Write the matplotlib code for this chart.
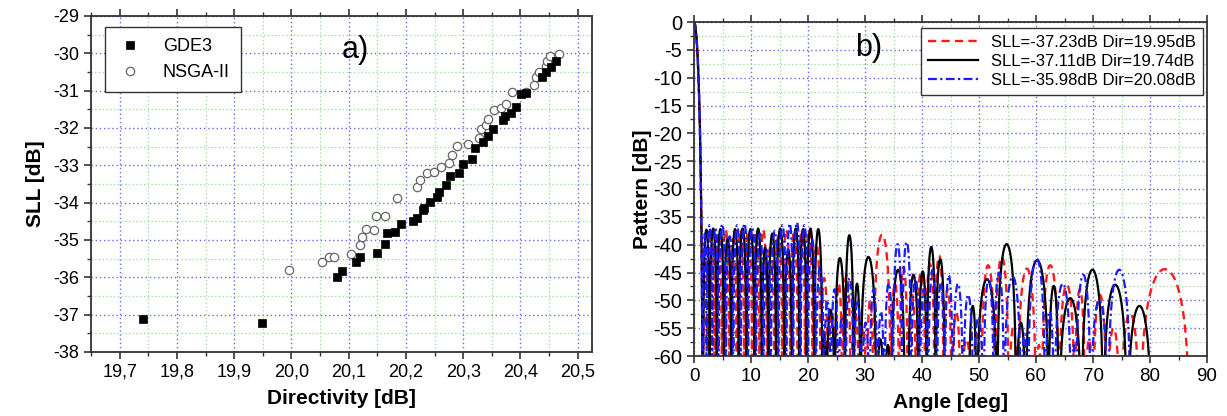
import numpy as np
import matplotlib
matplotlib.use('Agg')
import matplotlib.pyplot as plt
import matplotlib.ticker as mticker

# ── Data ──────────────────────────────────────────────────────────────────────
# a) Pareto fronts
GDE3_DIR = [19.740, 19.949, 20.080, 20.089, 20.112, 20.119, 20.150, 20.164, 20.167,
            20.181, 20.192, 20.213, 20.219, 20.229, 20.232, 20.242, 20.255, 20.258,
            20.270, 20.277, 20.292, 20.299, 20.315, 20.321, 20.335, 20.343, 20.352,
            20.370, 20.373, 20.383, 20.393, 20.401, 20.410, 20.438, 20.444, 20.453,
            20.462]
GDE3_SLL = [-37.11, -37.23, -35.98, -35.82, -35.58, -35.46, -35.36, -35.11, -34.80,
            -34.79, -34.58, -34.49, -34.42, -34.20, -34.13, -33.98, -33.84, -33.71,
            -33.53, -33.28, -33.20, -32.97, -32.83, -32.53, -32.37, -32.21, -32.04,
            -31.79, -31.68, -31.59, -31.43, -31.09, -31.07, -30.63, -30.49, -30.36,
            -30.20]
NSGA_DIR = [19.995, 20.054, 20.066, 20.074, 20.104, 20.119, 20.124, 20.130, 20.145,
            20.147, 20.163, 20.184, 20.219, 20.224, 20.236, 20.249, 20.261, 20.276,
            20.280, 20.290, 20.309, 20.328, 20.331, 20.339, 20.344, 20.354, 20.366,
            20.374, 20.386, 20.409, 20.424, 20.427, 20.433, 20.444, 20.447, 20.451,
            20.468]
NSGA_SLL = [-35.80, -35.59, -35.46, -35.45, -35.38, -35.13, -34.93, -34.71, -34.73,
            -34.36, -34.36, -33.87, -33.59, -33.39, -33.21, -33.17, -33.04, -32.95,
            -32.72, -32.48, -32.43, -32.28, -32.04, -31.92, -31.77, -31.52, -31.47,
            -31.36, -31.04, -31.03, -30.85, -30.64, -30.51, -30.34, -30.20, -30.07,
            -30.02]

# b) radiation patterns: null angles [deg] and lobe peak levels [dB] between them
RED_NULLS = [-1.6, 1.6, 2.4, 3.6, 4.9, 6.2, 7.5, 8.8, 10.2, 11.5, 12.8, 14.1, 15.5,
             16.9, 18.2, 19.5, 20.8, 22.2, 23.5, 24.8, 26.0, 27.5, 29.0, 30.3, 31.5,
             34.5, 36.0, 37.5, 39.0, 40.6, 42.2, 43.8, 45.2, 46.8, 48.8, 50.4, 52.8,
             55.2, 56.8, 60.0, 61.0, 64.0, 66.8, 68.6, 70.0, 72.4, 74.8, 78.2, 87.0]
RED_PEAKS = [0, -40, -37.3, -38, -37.3, -39, -37.3, -37.5, -38, -37.3, -40, -38.5,
             -37.3, -37.5, -38, -37.3, -40, -46, -52, -47, -45.5, -52, -55, -50,
             -38.2, -47, -44, -49, -45, -43.5, -42, -48, -52, -57, -56, -43.7, -42.2,
             -55, -44.3, -58, -43.7, -47.2, -48, -57, -49, -55, -52.3, -44.4]

BLACK_NULLS = [-1.6, 1.6, 2.75, 4.0, 5.25, 6.55, 7.85, 9.2, 10.6, 11.9, 13.05, 14.4,
               15.85, 17.2, 18.5, 19.75, 21.1, 22.5, 23.2, 24.7, 26.5, 28.0, 29.2,
               32.0, 33.4, 34.6, 37.0, 37.6, 39.4, 40.85, 42.4, 44.0, 46.0, 48.2,
               49.6, 53.2, 56.5, 58.2, 62.2, 64.0, 68.0, 71.8, 76.0, 80.3]
BLACK_PEAKS = [0, -37.3, -37.1, -37.2, -39, -37.2, -37.1, -37.2, -37.1, -40.5, -38,
               -37.1, -41, -37.1, -37.2, -37.1, -37.2, -56, -51.7, -42.4, -38.3, -47,
               -42.2, -57, -58, -44.5, -65, -45.4, -44.8, -40.4, -42.6, -65, -65, -51,
               -46.2, -39.9, -54, -42.8, -47.4, -49.6, -44.5, -47.2, -51]

BLUE_NULLS = [-1.6, 1.6, 2.2, 3.2, 4.3, 5.6, 6.9, 8.2, 9.5, 10.9, 12.2, 13.5, 14.8,
              16.2, 17.4, 18.7, 20.0, 21.4, 22.8, 24.0, 25.3, 26.6, 28.0, 29.4, 30.8,
              32.2, 33.4, 34.9, 36.5, 38.1, 39.6, 41.1, 42.6, 44.0, 45.4, 47.2, 49.0,
              50.8, 52.6, 54.4, 57.4, 58.6, 61.6, 63.2, 66.2, 67.0, 69.6, 72.6, 76.6]
BLUE_PEAKS = [0, -38, -36.5, -37, -36.3, -38.5, -36.5, -36.2, -37, -38, -41, -37.5,
              -36.5, -36.2, -35.98, -36.5, -39, -44, -50, -48, -53, -46, -50, -54,
              -48, -52, -47, -39.9, -39.5, -46, -48, -44.5, -47, -45.5, -47, -49, -53,
              -46, -45, -45.7, -56, -42.5, -52, -47, -58, -45.4, -50, -44.5]

PATTERN_LABELS = ['SLL=-37.23dB Dir=19.95dB',
                  'SLL=-37.11dB Dir=19.74dB',
                  'SLL=-35.98dB Dir=20.08dB']

# ── Style ─────────────────────────────────────────────────────────────────────
GRID_MAJ = '#6868f0'
GRID_MIN = '#90e090'
SPINE    = '#333333'

plt.rcParams.update({
    'font.family':       ['Liberation Sans', 'DejaVu Sans'],
    'axes.unicode_minus': False,
    'axes.edgecolor':    SPINE,
    'axes.linewidth':    1.3,
    'xtick.direction':   'out',
    'ytick.direction':   'out',
    'xtick.major.size':  5,
    'ytick.major.size':  5,
    'xtick.minor.size':  3,
    'ytick.minor.size':  3,
    'xtick.major.width': 1.2,
    'ytick.major.width': 1.2,
    'xtick.minor.width': 1.0,
    'ytick.minor.width': 1.0,
    'xtick.color':       SPINE,
    'ytick.color':       SPINE,
    'xtick.labelcolor':  'black',
    'ytick.labelcolor':  'black',
})


def lobes(nulls, peaks, main_sharp=3.4, n=80):
    # each lobe drawn between its two nulls, topped at the read peak level
    xs, ys = [], []
    for i, (a, b, p) in enumerate(zip(nulls[:-1], nulls[1:], peaks)):
        t = np.linspace(0, 1, n)
        s = np.clip(np.sin(np.pi * t), 1e-5, None)
        k = main_sharp if i == 0 else 1.0
        xs.append(a + (b - a) * t)
        ys.append(p + 20 * k * np.log10(s))
    return np.concatenate(xs), np.concatenate(ys)


def style_grid(ax):
    ax.grid(which='major', color=GRID_MAJ, linestyle=(0, (1, 2)), linewidth=1.0)
    ax.grid(which='minor', color=GRID_MIN, linestyle=(0, (1, 2)), linewidth=0.9)
    ax.set_axisbelow(True)
    ax.tick_params(which='both', top=True, right=False, labeltop=False)


fig = plt.figure(figsize=(12.27, 4.16), dpi=100)

# ════════════════════════════════════════════════════════════════════════════════
# a) SLL vs Directivity
# ════════════════════════════════════════════════════════════════════════════════
ax1 = fig.add_axes([91 / 1227, 64 / 416, 501 / 1227, 336 / 416])
ax1.plot(NSGA_DIR, NSGA_SLL, 'o', ms=6, mfc='white', mec='#666666', mew=0.9,
         label='NSGA-II', zorder=3)
ax1.plot(GDE3_DIR, GDE3_SLL, 's', ms=5.5, mfc='black', mec='black', mew=0.5,
         label='GDE3', zorder=4)
ax1.set_xlim(19.65, 20.525)
ax1.set_ylim(-38, -29)
ax1.xaxis.set_major_locator(mticker.MultipleLocator(0.1))
ax1.xaxis.set_minor_locator(mticker.MultipleLocator(0.05))
ax1.yaxis.set_major_locator(mticker.MultipleLocator(1))
ax1.yaxis.set_minor_locator(mticker.MultipleLocator(0.5))
ax1.xaxis.set_major_formatter(mticker.FuncFormatter(lambda v, _: f'{v:.1f}'.replace('.', ',')))
ax1.yaxis.set_major_formatter(mticker.FuncFormatter(lambda v, _: f'{int(round(v))}'))
ax1.tick_params(labelsize=13)
style_grid(ax1)
ax1.set_xlabel('Directivity [dB]', fontsize=15, fontweight='bold', labelpad=6)
ax1.set_ylabel('SLL [dB]', fontsize=15, fontweight='bold', labelpad=6)
h, l = ax1.get_legend_handles_labels()
leg1 = ax1.legend(h[::-1], l[::-1], loc='upper left', bbox_to_anchor=(0.028, 0.967),
                  borderaxespad=0, fontsize=13, fancybox=False, framealpha=1,
                  edgecolor='#333333', handletextpad=1.0, borderpad=0.6,
                  handlelength=1.6)
leg1.get_frame().set_linewidth(1.0)
ax1.text(0.527, 0.90, 'a)', transform=ax1.transAxes, ha='center', va='center',
         fontsize=22)

# ════════════════════════════════════════════════════════════════════════════════
# b) Radiation patterns
# ════════════════════════════════════════════════════════════════════════════════
ax2 = fig.add_axes([694 / 1227, 60 / 416, 513 / 1227, 334 / 416])
xr, yr = lobes(RED_NULLS, RED_PEAKS)
xk, yk = lobes(BLACK_NULLS, BLACK_PEAKS)
xb, yb = lobes(BLUE_NULLS, BLUE_PEAKS)
ax2.plot(xr, yr, color='#ff1a1a', lw=1.7, linestyle=(0, (3.5, 2.2)), label=PATTERN_LABELS[0])
ax2.plot(xk, yk, color='black', lw=1.6, label=PATTERN_LABELS[1])
ax2.plot(xb, yb, color='#1a1aff', lw=1.6, linestyle=(0, (4, 1.5, 1, 1.5)),
         label=PATTERN_LABELS[2])
ax2.set_xlim(0, 90)
ax2.set_ylim(-60, 0)
ax2.xaxis.set_major_locator(mticker.MultipleLocator(10))
ax2.xaxis.set_minor_locator(mticker.MultipleLocator(5))
ax2.yaxis.set_major_locator(mticker.MultipleLocator(5))
ax2.yaxis.set_minor_locator(mticker.MultipleLocator(2.5))
ax2.yaxis.set_major_formatter(mticker.FuncFormatter(lambda v, _: f'{int(round(v))}'))
ax2.tick_params(axis='x', labelsize=13.5)
ax2.tick_params(axis='y', labelsize=14.5)
style_grid(ax2)
ax2.set_xlabel('Angle [deg]', fontsize=15, fontweight='bold', labelpad=6)
ax2.set_ylabel('Pattern [dB]', fontsize=15, fontweight='bold', labelpad=1)
leg2 = ax2.legend(loc='upper right', bbox_to_anchor=(0.992, 0.982), borderaxespad=0,
                  fontsize=12, fancybox=False, framealpha=1, edgecolor='#333333',
                  handlelength=3.0, handletextpad=0.8, borderpad=0.4,
                  labelspacing=0.25)
leg2.get_frame().set_linewidth(1.0)
ax2.text(0.341, 0.922, 'b)', transform=ax2.transAxes, ha='center', va='center',
         fontsize=22)

fig.savefig('out.png', dpi=100, facecolor='white')
